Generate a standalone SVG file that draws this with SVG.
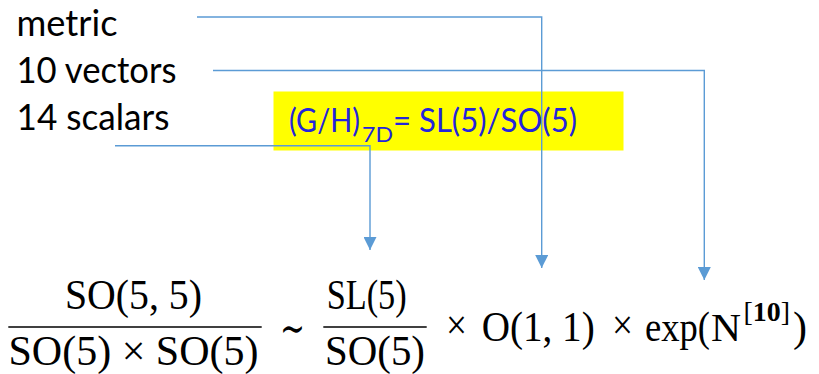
<svg xmlns="http://www.w3.org/2000/svg" width="819" height="374" viewBox="0 0 819 374">
<style>
.lbl{font-family:Lato,"Liberation Sans",sans-serif;font-size:36px;fill:#000}
.ylw{font-family:Lato,"Liberation Sans",sans-serif;font-size:33px;fill:#2424DC}
.sub{font-size:21px}
.m{font-family:"Liberation Serif","DejaVu Serif",serif;font-size:43px;fill:#000}
.tt{font-size:41px}
.sup{font-size:28px}
.bar{stroke:#000;stroke-width:1.6}
.con{fill:none;stroke:#5B9BD5;stroke-width:1.4}
</style>
<defs>
<marker id="arr" viewBox="0 0 10 10" refX="10" refY="5" markerWidth="13" markerHeight="13" markerUnits="userSpaceOnUse" orient="auto">
<path d="M0,0 L10,5 L0,10 z" fill="#5B9BD5"/>
</marker>
</defs>
<g id="labels">
<text class="lbl" x="16.5" y="36" textLength="101" lengthAdjust="spacingAndGlyphs">metric</text>
<text class="lbl" x="16.5" y="82.5" textLength="160" lengthAdjust="spacingAndGlyphs">10 vectors</text>
<text class="lbl" x="16.5" y="130" textLength="153" lengthAdjust="spacingAndGlyphs">14 scalars</text>
</g>
<g id="coset-box">
<rect x="273.5" y="91.5" width="350" height="59" fill="#FFFF00"/>
<text class="ylw"><tspan x="289" y="132" textLength="71" lengthAdjust="spacingAndGlyphs">(G/H)</tspan><tspan class="sub" x="362" y="142" textLength="31" lengthAdjust="spacingAndGlyphs">7D</tspan><tspan x="393" y="132" textLength="184" lengthAdjust="spacingAndGlyphs">= SL(5)/SO(5)</tspan></text>
</g>
<g id="formula">
<text class="m" x="65" y="309" textLength="137" lengthAdjust="spacingAndGlyphs">SO(5, 5)</text>
<line class="bar" x1="8.3" y1="327" x2="261.7" y2="327"/>
<text class="m" x="8.5" y="365" textLength="250" lengthAdjust="spacingAndGlyphs">SO(5) × SO(5)</text>
<text class="m" x="280" y="343" textLength="25" lengthAdjust="spacingAndGlyphs" font-family="DejaVu Serif" font-size="56">∼</text>
<text class="m" x="326.7" y="309" textLength="80" lengthAdjust="spacingAndGlyphs">SL(5)</text>
<line class="bar" x1="323.3" y1="327" x2="426.7" y2="327"/>
<text class="m" x="325" y="365" textLength="100" lengthAdjust="spacingAndGlyphs">SO(5)</text>
<text class="m" x="446" y="339" textLength="21" lengthAdjust="spacingAndGlyphs">×</text>
<text class="m" x="481.7" y="341" textLength="113" lengthAdjust="spacingAndGlyphs">O(1, 1)</text>
<text class="m" x="612" y="339" textLength="21" lengthAdjust="spacingAndGlyphs">×</text>
<text class="m"><tspan x="645" y="341" textLength="65" lengthAdjust="spacingAndGlyphs">exp(</tspan><tspan class="tt" x="711" y="341" textLength="30" lengthAdjust="spacingAndGlyphs">N</tspan><tspan class="sup" x="743.5" y="321" textLength="46.5" lengthAdjust="spacingAndGlyphs">[<tspan font-weight="bold">10</tspan>]</tspan><tspan x="793" y="341" textLength="14" lengthAdjust="spacingAndGlyphs">)</tspan></text>
</g>
<g id="connectors">
<path class="con" d="M197,17 H541.7 V268" marker-end="url(#arr)"/>
<path class="con" d="M213,70.5 H704.3 V280" marker-end="url(#arr)"/>
<path class="con" d="M115,145.7 H370 V250" marker-end="url(#arr)"/>
</g>
</svg>
